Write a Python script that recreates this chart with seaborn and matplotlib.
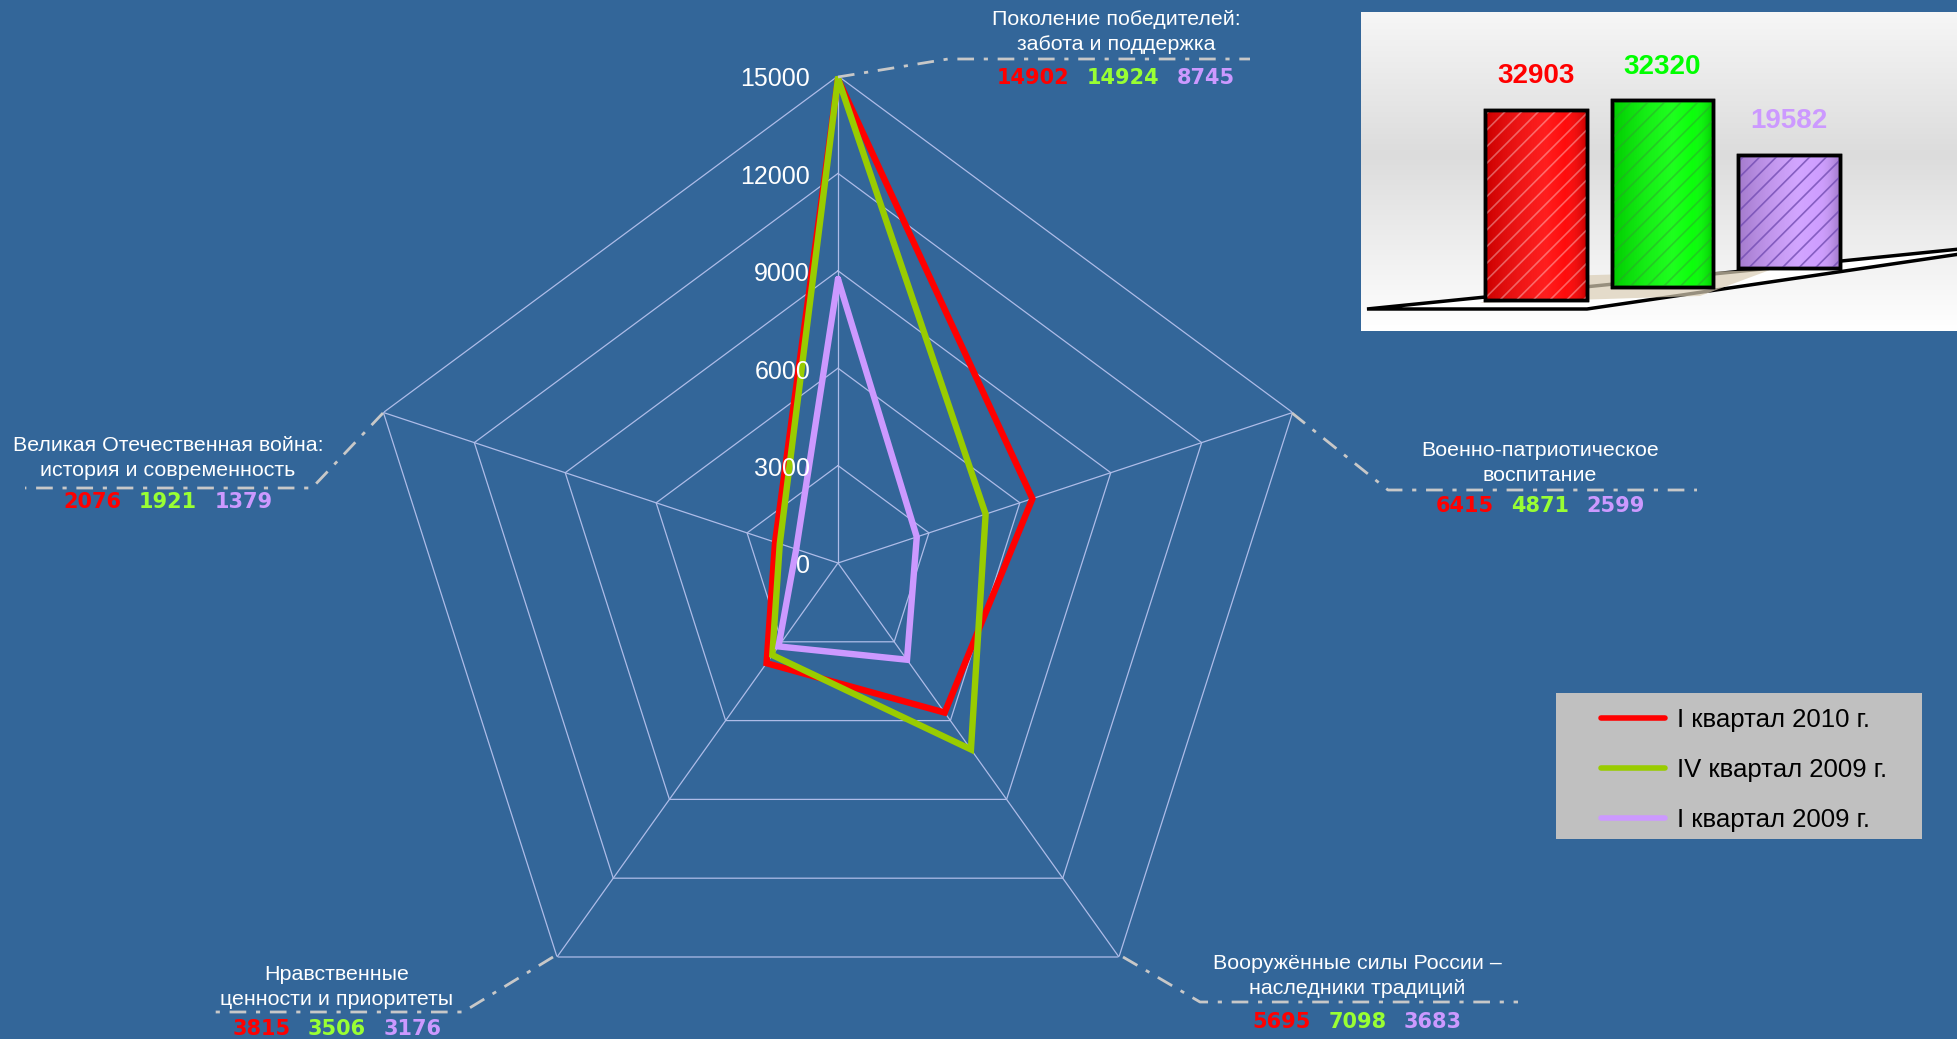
import numpy as np
import pandas as pd
import matplotlib
matplotlib.use("Agg")
import matplotlib.pyplot as plt
import seaborn as sns
from matplotlib.lines import Line2D
from matplotlib.patches import Polygon, Rectangle
from matplotlib.colors import LinearSegmentedColormap
from matplotlib.offsetbox import TextArea, HPacker, AnnotationBbox

# ---------------- data ----------------
categories = [
    "Поколение победителей:\nзабота и поддержка",
    "Военно-патриотическое\nвоспитание",
    "Вооружённые силы России –\nнаследники традиций",
    "Нравственные\nценности и приоритеты",
    "Великая Отечественная война:\nистория и современность",
]
series = ["I квартал 2010 г.", "IV квартал 2009 г.", "I квартал 2009 г."]
q1_2010 = [14902, 6415, 5695, 3815, 2076]
q4_2009 = [14924, 4871, 7098, 3506, 1921]
q1_2009 = [8745, 2599, 3683, 3176, 1379]
totals = [32903, 32320, 19582]
r_ticks = [0, 3000, 6000, 9000, 12000, 15000]

# ---------------- style ----------------
BG = "#336699"
GRID = "#AEBCE8"
LEADER = "#C8C8C8"
line_colors = ["#FF0000", "#99CC00", "#CC99FF"]
num_colors = ["#FF0000", "#99FF33", "#CC99FF"]
bar_colors = ["#FF0000", "#00FF00", "#CC99FF"]
hatch_colors = [(1, 1, 1, 0.35), (0.2, 0.6, 0.2, 0.45), (0.45, 0.3, 0.7, 0.8)]

sns.set_theme(style="white")
plt.rcParams["font.family"] = ["Liberation Sans", "DejaVu Sans"]
plt.rcParams["hatch.linewidth"] = 1.2

W, H = 1957, 1039
fig = plt.figure(figsize=(W / 100, H / 100), dpi=100, facecolor=BG)


def fx(x):
    return x / W


def fy(y):
    return 1 - y / H


# ---------------- radar ----------------
cx, cy, rx, ry = 838, 563, 478, 487
ax = fig.add_axes([fx(cx - rx), fy(cy + ry), 2 * rx / W, 2 * ry / H], projection="polar")
ax.set_aspect("auto")
ax.set_facecolor("none")
ax.set_theta_zero_location("N")
ax.set_theta_direction(-1)
ax.grid(False)
ax.spines["polar"].set_visible(False)

angles = np.deg2rad(np.arange(len(categories)) * 360 / len(categories))
closed = np.append(angles, 2 * np.pi)

# pentagon grid
for v in r_ticks[1:]:
    ax.plot(closed, [v] * len(closed), color=GRID, lw=0.9, zorder=1)
for a in angles:
    ax.plot([a, a], [0, r_ticks[-1]], color=GRID, lw=0.9, zorder=1)

rows = []
for name, vals in zip(series, [q1_2010, q4_2009, q1_2009]):
    for th, v in zip(closed, list(vals) + [vals[0]]):
        rows.append({"theta": th, "value": v, "series": name})
df = pd.DataFrame(rows)

sns.lineplot(data=df, x="theta", y="value", hue="series", hue_order=series,
             palette=line_colors, linewidth=4.6, sort=False, estimator=None,
             legend=False, ax=ax, zorder=3)
for l in ax.lines[-3:]:
    l.set_solid_joinstyle("miter")

ax.set_ylim(0, r_ticks[-1])
ax.set_xticks([])
ax.set_yticks([])
ax.set_xlabel("")
ax.set_ylabel("")

for v in r_ticks:
    ax.annotate(str(v), xy=(0, v), xytext=(-20, -2.5), textcoords="offset points",
                ha="right", va="center", color="white", fontsize=18, zorder=4)

# ---------------- leaders, labels and numbers ----------------
leaders = [
    [(838, 77), (948, 59), (1250, 59)],
    [(1292, 413), (1388, 490), (1697, 490)],
    [(1123, 957), (1200, 1002), (1518, 1002)],
    [(553, 957), (463, 1012), (207, 1012)],
    [(383, 413), (312, 488), (25, 488)],
]
label_pos = [(1116, 32), (1540, 463), (1357, 976), (337, 987), (168, 458)]
num_pos = [(1116, 78), (1540, 506), (1357, 1022), (337, 1029), (168, 502)]

for pts in leaders:
    xs = [fx(p[0]) for p in pts]
    ys = [fy(p[1]) for p in pts]
    fig.add_artist(Line2D(xs, ys, transform=fig.transFigure, color=LEADER, lw=2.0,
                          dashes=(6, 3.5, 1.5, 3.5)))

for cat, (x, y) in zip(categories, label_pos):
    fig.text(fx(x), fy(y), cat, ha="center", va="center", color="white",
             fontsize=15.4, linespacing=1.35, multialignment="center")

for i, (x, y) in enumerate(num_pos):
    vals = [q1_2010[i], q4_2009[i], q1_2009[i]]
    boxes = [TextArea(str(v), textprops=dict(color=c, fontsize=15, fontweight="bold",
                                             family="DejaVu Sans"))
             for v, c in zip(vals, num_colors)]
    pack = HPacker(children=boxes, align="baseline", pad=0, sep=12.5)
    ab = AnnotationBbox(pack, (fx(x), fy(y)), xycoords="figure fraction",
                        frameon=False, box_alignment=(0.5, 0.5), pad=0)
    fig.add_artist(ab)

# ---------------- inset 3D-like bar chart ----------------
L, T, R, B = 1361, 12, 1957, 331
axbg = fig.add_axes([fx(L), fy(B), (R - L) / W, (B - T) / H])
grad_cmap = LinearSegmentedColormap.from_list(
    "g", [(0, "#F6F6F6"), (0.45, "#DCDCDC"), (1, "#FFFFFF")])
axbg.imshow(np.linspace(0, 1, 256)[:, None], cmap=grad_cmap, aspect="auto",
            extent=[L, R, B, T])
floor = Polygon([(1367, 309), (1587, 309), (1960, 254), (1960, 249)], closed=True,
                facecolor="white", edgecolor="black", lw=2.5, zorder=3)
axbg.add_patch(floor)
shadow = Polygon([(1480, 303), (1700, 296), (1770, 270), (1560, 276)], closed=True,
                 facecolor="#D9CDB4", edgecolor="none", alpha=0.7, zorder=3.5)
axbg.add_patch(shadow)
axbg.set_xlim(L, R)
axbg.set_ylim(B, T)
axbg.axis("off")

axb = fig.add_axes([fx(L), fy(B), (R - L) / W, (B - T) / H])
axb.set_facecolor("none")
px_unit = totals[0] / 190.0
bottoms = [(B - 300) * px_unit, (B - 287) * px_unit, (B - 268) * px_unit]
for i in range(len(series)):
    sns.barplot(x=[series[i]], y=[totals[i]], order=series, color=bar_colors[i],
                saturation=1, width=0.8, bottom=bottoms[i], edgecolor="black",
                linewidth=2.5, ax=axb, zorder=2)
bars = list(axb.patches)
shade_cmap = LinearSegmentedColormap.from_list(
    "s", [(0, (0, 0, 0, 0.20)), (0.6, (1, 1, 1, 0.12)), (0.8, (1, 1, 1, 0.05)),
          (1, (0, 0, 0, 0.20))])
for p, hc in zip(bars, hatch_colors):
    x0, y0, w, h = p.get_x(), p.get_y(), p.get_width(), p.get_height()
    im = axb.imshow(np.linspace(0, 1, 64)[None, :], cmap=shade_cmap, aspect="auto",
                    extent=[x0, x0 + w, y0, y0 + h], zorder=2.2, interpolation="bilinear")
    im.set_clip_path(p)
    axb.add_patch(Rectangle((x0, y0), w, h, fill=False, hatch="//", edgecolor=hc,
                            lw=0, zorder=2.5))
    axb.add_patch(Rectangle((x0, y0), w, h, fill=False, edgecolor="black", lw=2.5,
                            zorder=2.6))
for i, (v, b, c) in enumerate(zip(totals, bottoms, bar_colors)):
    axb.annotate(str(v), xy=(i, b + v), xytext=(0, 15), textcoords="offset points",
                 ha="center", va="bottom", color=c, fontsize=20, fontweight="bold")
axb.set_xlim(-1.383, 3.328)
axb.set_ylim(0, (B - T) * px_unit)
axb.axis("off")

# ---------------- legend ----------------
fig.add_artist(Rectangle((fx(1556), fy(839)), (1922 - 1556) / W, (839 - 693) / H,
                         transform=fig.transFigure, facecolor="#C0C0C0",
                         edgecolor="none", zorder=0))
handles = [Line2D([], [], color=c, lw=4) for c in line_colors]
leg = fig.legend(handles=handles, labels=series, loc="upper left",
                 bbox_to_anchor=(fx(1601), fy(708)), frameon=False, fontsize=18.5,
                 handlelength=2.5, handletextpad=0.45, labelspacing=1.02,
                 borderpad=0, borderaxespad=0)
for t in leg.get_texts():
    t.set_color("black")

fig.savefig("out.png", dpi=100, facecolor=BG)
